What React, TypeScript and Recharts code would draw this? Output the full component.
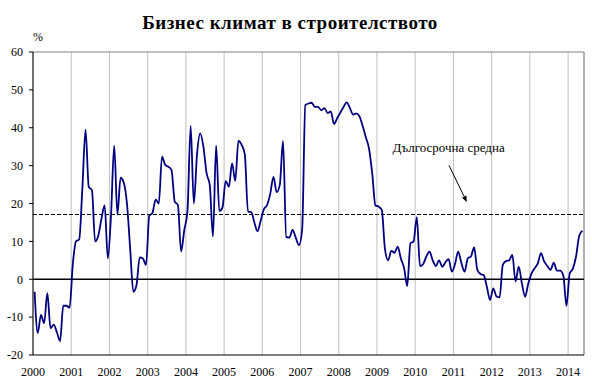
import React from "react";
import {
  LineChart,
  Line,
  XAxis,
  YAxis,
  CartesianGrid,
  ReferenceLine,
  ReferenceDot,
} from "recharts";

// monthly values, %, Jan 2000 - May 2014
const v2000 = [-3.3, -14.2, -9.4, -11.6, -3.7, -12.9, -12, -14, -16.3, -7, -7, -7.5];
const v2001 = [4, 10, 10.5, 24, 39.5, 24.4, 23.5, 10, 11.5, 16, 19.5, 5.5];
const v2002 = [17, 35.3, 17.1, 26.8, 25.5, 20, 8.2, -3.3, -1.5, 5.8, 5.5, 3.8];
const v2003 = [16.8, 17.5, 21, 20, 32.4, 30.2, 29.7, 28.8, 20.5, 19.6, 7.3, 13];
const v2004 = [18, 40.5, 20, 33, 38.5, 35, 28, 24.9, 11.3, 35.3, 18, 19];
const v2005 = [26, 24.4, 30.6, 26, 36.5, 35.5, 33, 17.8, 17.8, 15, 12.7, 15.5];
const v2006 = [18.5, 19.6, 22.6, 27, 23, 25, 36.5, 11.2, 11, 13, 11, 9];
const v2007 = [13, 46, 46.4, 46.6, 45.5, 45.5, 44.6, 45.2, 43.9, 44.3, 41, 42.5];
const v2008 = [44, 45.5, 46.7, 45.2, 43.5, 43.8, 43, 40.5, 37.5, 34.5, 28, 19.5];
const v2009 = [19.2, 18.3, 8, 5, 7.5, 7, 8.6, 5.5, 3, -1.8, 9.5, 10];
const v2010 = [16.4, 3.5, 4, 6, 7.3, 5, 3.5, 5, 3.3, 4.5, 5.3, 2];
const v2011 = [4, 7.3, 4.3, 2, 5.5, 6, 8.4, 2.5, 1.4, 1.1, -2, -5.5];
const v2012 = [-2.4, -4.5, -4.8, 3.8, 4.8, 5, 6.4, -0.6, 3.3, -1.1, -4.6, -1.1];
const v2013 = [1.5, 2.9, 4.2, 6.9, 4.7, 3.5, 2.5, 4.4, 2.3, 2.3, 1, -7];
const v2014 = [1.5, 2.8, 6, 11.5, 12.8];

const years = ["2000", "2001", "2002", "2003", "2004", "2005", "2006", "2007",
  "2008", "2009", "2010", "2011", "2012", "2013", "2014"];
const yTicks = [-20, -10, 0, 10, 20, 30, 40, 50, 60];
const longTermAvg = 17.1;
const title = "Бизнес климат в строителството";
const noteText = "Дългосрочна средна";

const data = [v2000, v2001, v2002, v2003, v2004, v2005, v2006, v2007,
  v2008, v2009, v2010, v2011, v2012, v2013, v2014]
  .flat()
  .map((v, i) => ({ i, v }));

const lastIdx = data.length - 0.5;
const yearTicks = years.map((_, k) => k * 12 - 0.5);

const font = "'Liberation Serif', 'Times New Roman', serif";

const Arrow = (props: any) => {
  const { x1, y1, x2, y2 } = props;
  const a = Math.atan2(y2 - y1, x2 - x1);
  const len = 6;
  const w = 2.5;
  const bx = x2 - len * Math.cos(a);
  const by = y2 - len * Math.sin(a);
  return (
    <g>
      <line x1={x1} y1={y1} x2={bx} y2={by} stroke="#000" strokeWidth={1} />
      <polygon
        points={`${x2},${y2} ${bx + w * Math.sin(a)},${by - w * Math.cos(a)} ${bx - w * Math.sin(a)},${by + w * Math.cos(a)}`}
        fill="#000"
      />
    </g>
  );
};

const Note = (props: any) => (
  <text
    x={props.cx}
    y={props.cy}
    textAnchor="middle"
    dominantBaseline="central"
    fontFamily={font}
    fontSize={13}
    fill="#000"
  >
    {noteText}
  </text>
);

export default function App() {
  return (
    <div style={{ position: "relative", width: 592, height: 388, background: "#fff" }}>
      <style>{`body{margin:0}`}</style>
      <div
        style={{
          position: "absolute",
          top: 12,
          left: 0,
          width: 580,
          textAlign: "center",
          fontFamily: font,
          fontWeight: "bold",
          fontSize: 19,
          letterSpacing: 0.5,
          lineHeight: "22px",
        }}
      >
        {title}
      </div>
      <div
        style={{
          position: "absolute",
          top: 30,
          left: 33,
          fontFamily: font,
          fontSize: 12,
        }}
      >
        %
      </div>
      <LineChart
        width={592}
        height={388}
        data={data}
        margin={{ top: 52, right: 8, bottom: 8, left: 0 }}
      >
        <CartesianGrid vertical horizontal={false} stroke="#c0c0c0" />
        <XAxis
          dataKey="i"
          type="number"
          domain={[-0.5, lastIdx]}
          ticks={yearTicks}
          tickFormatter={(t) => years[Math.round((t + 0.5) / 12)]}
          interval={0}
          height={25}
          tickLine={false}
          tickSize={0}
          tickMargin={12}
          axisLine={{ stroke: "#000" }}
          tick={{ fontFamily: font, fontSize: 12, fill: "#000" }}
        />
        <YAxis
          domain={[-20, 60]}
          ticks={yTicks}
          width={33}
          interval={0}
          tickSize={4}
          tickMargin={6}
          axisLine={{ stroke: "#000" }}
          tickLine={{ stroke: "#000" }}
          tick={{ fontFamily: font, fontSize: 12, fill: "#000" }}
        />
        <ReferenceLine y={60} stroke="#808080" />
        <ReferenceLine x={lastIdx} stroke="#808080" />
        <ReferenceLine y={0} stroke="#000" strokeWidth={1.3} />
        <ReferenceLine y={longTermAvg} stroke="#000" strokeWidth={1.1} strokeDasharray="4 2" />
        <ReferenceLine
          segment={[{ x: 130.1, y: 30.1 }, { x: 135.7, y: 20.4 }]}
          shape={Arrow}
        />
        <ReferenceDot x={130} y={34.8} r={0} shape={Note} />
        <Line
          type="monotone"
          dataKey="v"
          stroke="#000080"
          strokeWidth={1.8}
          dot={false}
          isAnimationActive={false}
        />
      </LineChart>
    </div>
  );
}
